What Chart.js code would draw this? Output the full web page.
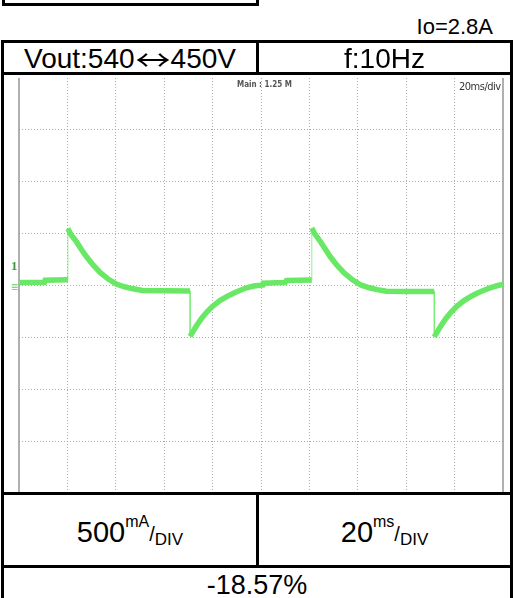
<!DOCTYPE html>
<html>
<head>
<meta charset="utf-8">
<script src="https://cdn.jsdelivr.net/npm/chart.js@4.4.0/dist/chart.umd.min.js"></script>
<style>
  body { margin: 0; width: 513px; height: 598px; background: #fff; overflow: hidden; position: relative;
         font-family: "Liberation Sans", Arial, sans-serif; color: #000; }
  .ln { position: absolute; background: #000; z-index: 3; }
  .txt { position: absolute; white-space: nowrap; display: flex; align-items: center; justify-content: center; z-index: 2; }
  #scope { position: absolute; left: 4px; top: 75px; z-index: 1; }
  .mark { position: absolute; white-space: nowrap; z-index: 2; }
</style>
</head>
<body>
<!-- bottom of the box cut off at the top -->
<div class="ln" style="left:2px;top:-5px;width:3px;height:11px"></div>
<div class="ln" style="left:256px;top:-5px;width:3px;height:11px"></div>
<div class="ln" style="left:2px;top:3px;width:257px;height:3px"></div>

<div class="txt" style="left:380px;width:113px;top:13px;height:28px;justify-content:flex-end;font-size:22px">Io=2.8A</div>

<!-- table -->
<div class="ln" style="left:1px;top:40px;width:512px;height:3px"></div>
<div class="ln" style="left:1px;top:40px;width:3px;height:560px"></div>
<div class="ln" style="left:510px;top:40px;width:3px;height:560px"></div>
<div class="ln" style="left:1px;top:72px;width:512px;height:3px"></div>
<div class="ln" style="left:256px;top:40px;width:3px;height:35px"></div>
<div class="ln" style="left:1px;top:492px;width:512px;height:3px"></div>
<div class="ln" style="left:256px;top:492px;width:3px;height:76px"></div>
<div class="ln" style="left:1px;top:565px;width:512px;height:3px"></div>

<div class="txt" style="left:4px;width:252px;top:44px;height:30px;font-size:28px">
  <span>Vout:540</span><span style="font-family:'Noto Sans CJK JP',sans-serif;display:inline-block;transform:scaleX(1.25);margin:0 4px">↔</span><span>450V</span>
</div>
<div class="txt" style="left:259px;width:251px;top:44px;height:30px;font-size:28px">f:10Hz</div>

<div class="txt" style="left:4px;width:252px;top:512px;height:40px;font-size:29px">
  <span>500</span><span style="font-size:16px;position:relative;top:-10px">mA</span><span style="font-size:20px;position:relative;top:2px">/</span><span style="font-size:17px;position:relative;top:8px">DIV</span>
</div>
<div class="txt" style="left:259px;width:251px;top:512px;height:40px;font-size:29px">
  <span>20</span><span style="font-size:16px;position:relative;top:-10px">ms</span><span style="font-size:20px;position:relative;top:2px">/</span><span style="font-size:17px;position:relative;top:8px">DIV</span>
</div>
<div class="txt" style="left:4px;width:506px;top:570px;height:30px;font-size:27px">-18.57%</div>

<canvas id="scope" width="506" height="418"></canvas>

<div class="mark" style="left:237px;top:80px;font-size:8px;font-weight:bold;color:#555;font-family:'DejaVu Sans Condensed','DejaVu Sans',sans-serif">Main : 1.25 M</div>
<div class="mark" style="left:459px;top:80px;font-size:11px;color:#333;font-family:'DejaVu Sans Condensed','DejaVu Sans',sans-serif;letter-spacing:-0.5px">20ms/div</div>
<div class="mark" style="left:11px;top:258px;font-size:13px;font-weight:bold;color:#3b9a3b;font-family:'Liberation Serif',serif">1</div>
<div class="mark" style="left:11px;top:280px;font-size:12px;color:#5ccf5c">≡</div>

<script>
// time axis: 20 ms/div, 10 divisions
const xMin = 0;
const xMax = 200;
const xStep = 20;
// current axis: 500 mA/div, 8 divisions
const yMin = -2000;
const yMax = 2000;
const yStep = 500;

// load current trace
const timeMs = [
  0, 10.5, 10.8, 20.2, 20.2, 21.5, 23.8, 26, 28, 30.5, 33.5, 37, 40.4, 44, 47.2, 51, 60, 70.7,
  70.7, 72, 73.4, 75.5, 77.5, 80, 83, 86, 88.6, 91, 94, 97, 100.8,
  101, 110, 110.5, 121, 121, 122.3, 124.6, 126.8, 128.8, 131.3, 134.3, 137.8, 141.2, 144.8, 148, 151.8, 160, 171.6,
  171.6, 172.9, 174.3, 176.4, 178.4, 180.9, 183.9, 186.9, 189.5, 191.9, 194.9, 197.9, 200
];
const currentMa = [
  28, 30, 50, 55, 550, 490, 420, 340, 274, 200, 126, 60, 12, -15, -32, -48, -50, -52,
  -490, -440, -386, -315, -258, -200, -145, -105, -74, -50, -22, -5, 5,
  22, 30, 48, 52, 555, 495, 422, 342, 272, 198, 122, 55, 5, -22, -40, -55, -57, -58,
  -495, -445, -390, -318, -260, -200, -145, -103, -72, -48, -20, 0, 10
];

const traceColor = "rgb(104, 232, 100)";

const gridOpts = (isEdge, edgeColor) => ({
  drawTicks: false,
  color: (ctx) => (isEdge(ctx) ? edgeColor : "rgba(140, 140, 140, 0.7)"),
  lineWidth: (ctx) => (isEdge(ctx) ? 2 : 1),
});

new Chart(document.getElementById("scope"), {
  type: "line",
  data: {
    datasets: [
      {
        data: timeMs.map((t, i) => ({ x: t, y: currentMa[i] })),
        borderColor: traceColor,
        borderWidth: 5.5,
        pointRadius: 0,
        tension: 0,
        segment: {
          borderWidth: (ctx) => (ctx.p0.parsed.x === ctx.p1.parsed.x ? 1 : undefined),
          borderColor: (ctx) => (ctx.p0.parsed.x === ctx.p1.parsed.x ? "rgba(104, 232, 100, 0.7)" : undefined),
        },
      },
    ],
  },
  options: {
    responsive: false,
    animation: false,
    devicePixelRatio: 1,
    layout: { padding: { left: 15, right: 7, top: 3, bottom: 0 } },
    plugins: { legend: { display: false }, tooltip: { enabled: false } },
    scales: {
      x: {
        type: "linear",
        min: xMin,
        max: xMax,
        ticks: { display: false, stepSize: xStep },
        grid: gridOpts((ctx) => ctx.tick && (ctx.tick.value === xMin || ctx.tick.value === xMax), "#b0b0b0"),
        border: {
          display: false,
          dash: (ctx) => (ctx.tick && (ctx.tick.value === xMin || ctx.tick.value === xMax) ? [] : [1, 2]),
        },
      },
      y: {
        type: "linear",
        min: yMin,
        max: yMax,
        ticks: { display: false, stepSize: yStep },
        grid: gridOpts((ctx) => ctx.tick && (ctx.tick.value === yMin || ctx.tick.value === yMax), "rgba(0,0,0,0)"),
        border: { display: false, dash: [1, 2] },
      },
    },
  },
});
</script>
</body>
</html>
